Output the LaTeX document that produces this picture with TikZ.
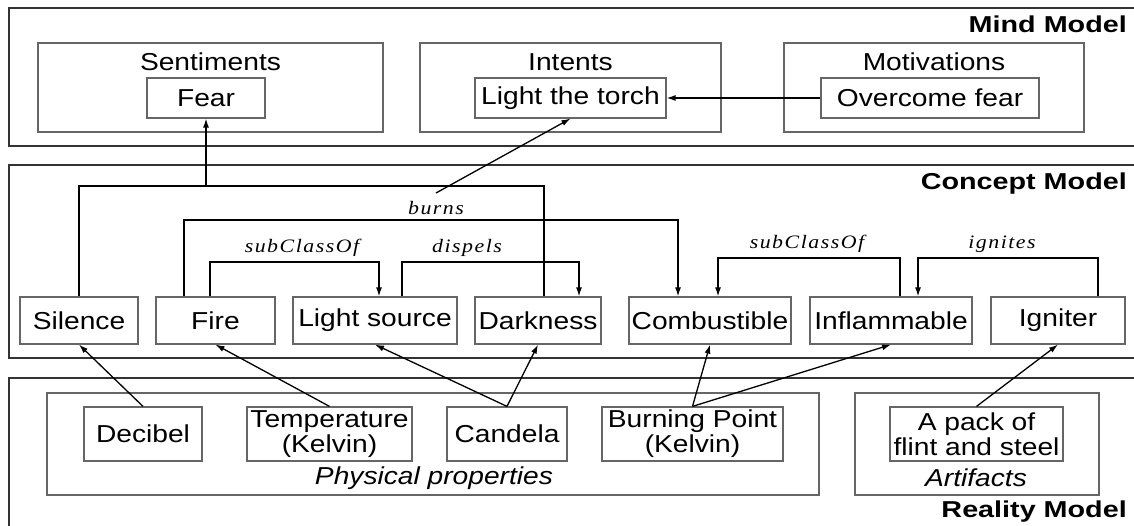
\documentclass[tikz,border=0pt]{standalone}
\usepackage{fontspec}
\setmainfont{Liberation Sans}[FakeStretch=1.15]
\newfontfamily\titlefont{Liberation Sans}[FakeStretch=1.25]
\newfontfamily\relfont{Liberation Serif}[FakeStretch=1.15, LetterSpace=8]
\usetikzlibrary{arrows.meta}
\tikzset{
  model/.style={draw=black!80, line width=2pt},
  group/.style={draw=black!60, line width=1.2pt, inner sep=0pt},
  cbox/.style={draw=black!60, line width=1.2pt, inner sep=0pt, align=center,
    font=\fontsize{24.5}{25}\selectfont},
  gtitle/.style={inner sep=0pt, font=\fontsize{24.5}{25}\selectfont},
  conn/.style={draw=black, line width=1.3pt},
  arr/.style={conn, -{Latex[length=9pt,width=6pt]}},
  rel/.style={inner sep=0pt, font=\relfont\itshape\fontsize{19}{21}\selectfont},
  mtitle/.style={inner sep=0pt, anchor=east, font=\titlefont\bfseries\fontsize{23}{25}\selectfont},
}
\begin{document}
\begin{tikzpicture}[x=1pt,y=-1pt]
\useasboundingbox (0,0) rectangle (1134,526);
% model frames
\draw[model] (9,8) rectangle (1145,146);
\draw[model] (9,165) rectangle (1145,358);
\draw[model] (9,378) rectangle (1145,545);
\node[mtitle] (mindt) at (1127,24) {Mind Model};
\node[mtitle] (conct) at (1127,184) {Concept Model};
\node[mtitle] (realt) at (1127,512) {Reality Model};

% Mind model
\node[group, minimum width=345, minimum height=89] (sent) at (210.5,87.5) {};
\node[gtitle] (sentt) at (210.5,62) {Sentiments};
\node[cbox, minimum width=118, minimum height=40] (fear) at (206,98) {Fear};
\node[group, minimum width=301, minimum height=89] (intents) at (570.5,87.5) {};
\node[gtitle] (intentst) at (570.5,62) {Intents};
\node[cbox, minimum width=191, minimum height=40] (torch) at (570.5,98) {Light the torch};
\node[group, minimum width=300, minimum height=89] (motiv) at (934,87.5) {};
\node[gtitle] (motivt) at (934,62) {Motivations};
\node[cbox, minimum width=218, minimum height=40] (overcome) at (930,98) {Overcome fear};
\draw[arr] (overcome.west) -- (torch.east);

% Concept model
\node[cbox, minimum width=118, minimum height=47] (silence) at (79,320.5) {Silence};
\node[cbox, minimum width=119, minimum height=47] (fire) at (215.5,320.5) {Fire};
\node[cbox, minimum width=164, minimum height=47] (lightsrc) at (375,320.5) {Light source};
\node[cbox, minimum width=126, minimum height=47] (darkness) at (538,320.5) {Darkness};
\node[cbox, minimum width=162, minimum height=47] (combust) at (710,320.5) {Combustible};
\node[cbox, minimum width=162, minimum height=47] (inflam) at (891,320.5) {Inflammable};
\node[cbox, minimum width=134, minimum height=47] (igniter) at (1058,320.5) {Igniter};

% silence / darkness -> fear
\coordinate (j1) at (79,186);
\coordinate (j2) at (544,186);
\coordinate (jf) at (206,186);
\draw[conn] (silence.north) -- (j1) -- (j2) -- (j2 |- darkness.north);
\draw[arr] (jf) -- (fear.south);

% burns
\coordinate (b1) at (184,220);
\coordinate (b2) at (678,220);
\draw[arr] (b1 |- fire.north) -- (b1) -- (b2) -- (b2 |- combust.north);
\node[rel] (burns) at (436,208) {burns};
\coordinate (bl) at (436,193);
\draw[arr] (bl) -- (torch.south);

% subClassOf fire -> light source
\coordinate (s1) at (210,262);
\coordinate (s2) at (379,262);
\draw[arr] (s1 |- fire.north) -- (s1) -- (s2) -- (s2 |- lightsrc.north);
\node[rel] (sub1) at (302,248) {subClassOf};

% dispels
\coordinate (d1) at (402,262);
\coordinate (d2) at (579,262);
\draw[arr] (d1 |- lightsrc.north) -- (d1) -- (d2) -- (d2 |- darkness.north);
\node[rel] (disp) at (467,248) {dispels};

% subClassOf inflammable -> combustible
\coordinate (c1) at (900,258);
\coordinate (c2) at (718,258);
\draw[arr] (c1 |- inflam.north) -- (c1) -- (c2) -- (c2 |- combust.north);
\node[rel] (sub2) at (807,244) {subClassOf};

% ignites
\coordinate (g1) at (1098,258);
\coordinate (g2) at (918,258);
\draw[arr] (g1 |- igniter.north) -- (g1) -- (g2) -- (g2 |- inflam.north);
\node[rel] (ign) at (1002,244) {ignites};

% Reality model
\node[group, minimum width=772, minimum height=102] (phys) at (433,444) {};
\node[gtitle, font=\fontsize{24.5}{25}\selectfont\itshape] (physt) at (434,478) {Physical properties};
\node[group, minimum width=244, minimum height=102] (artif) at (977,444) {};
\node[gtitle, font=\fontsize{24.5}{25}\selectfont\itshape] (artift) at (976,478) {Artifacts};
\node[cbox, minimum width=118, minimum height=54] (decibel) at (143,434) {Decibel};
\node[cbox, minimum width=165, minimum height=54] (temp) at (329.5,434) {Temperature\\(Kelvin)};
\node[cbox, minimum width=120, minimum height=54] (candela) at (507,434) {Candela};
\node[cbox, minimum width=181, minimum height=54] (burning) at (692.5,434) {Burning Point\\(Kelvin)};
\node[cbox, minimum width=173, minimum height=54] (pack) at (976.5,434) {A pack of\\flint and steel};

\draw[arr] (decibel.north) -- (silence.south);
\draw[arr] (temp.north) -- (fire.south);
\draw[arr] (candela.north) -- (lightsrc.south);
\draw[arr] (candela.north) -- (darkness.south);
\draw[arr] (burning.north) -- (combust.south);
\draw[arr] (burning.north) -- (inflam.south);
\draw[arr] (pack.north) -- (igniter.south);
\end{tikzpicture}
\end{document}
